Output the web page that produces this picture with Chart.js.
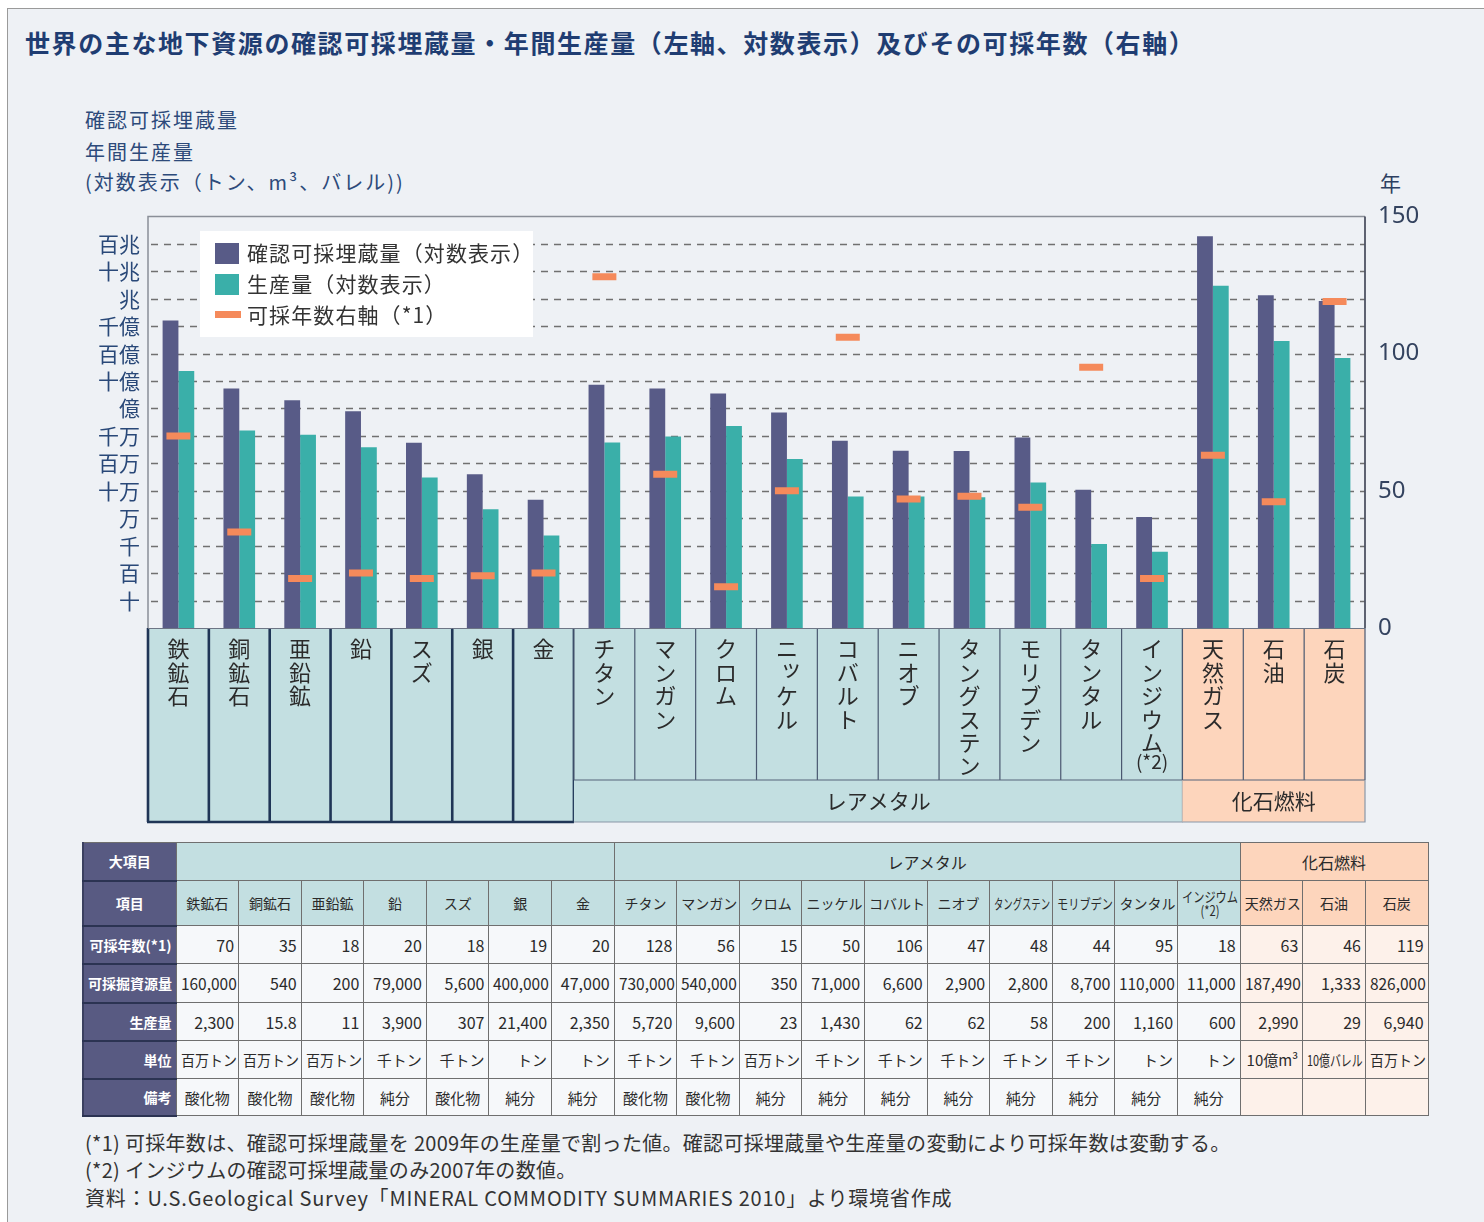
<!DOCTYPE html>
<html><head><meta charset="utf-8">
<script src="https://cdn.jsdelivr.net/npm/chart.js@4.4.0/dist/chart.umd.min.js"></script>
<style>
body{margin:0;width:1484px;height:1222px;overflow:hidden;background:#fff;font-family:'Noto Sans CJK JP','Noto Sans',sans-serif;position:relative;}
#frame{position:absolute;left:7px;top:8px;width:1480px;height:1230px;border:1px solid #9a9a9a;background:#eef1f5;}
#title{position:absolute;left:25px;top:24px;font-size:25px;letter-spacing:1.6px;font-weight:bold;color:#1f3d72;white-space:nowrap;}
.axt{position:absolute;left:85px;font-size:20px;letter-spacing:2px;color:#2d4a7a;white-space:nowrap;line-height:24px;}
#nen{position:absolute;left:1380px;top:167px;font-size:21px;color:#2d3f60;}
#cw{position:absolute;left:0;top:189px;width:1484px;height:641px;}
#legend{position:absolute;left:200px;top:231px;width:333px;height:106px;background:#fff;}
.li{position:absolute;left:47px;font-size:21px;letter-spacing:1.1px;color:#333;white-space:nowrap;line-height:26px;}
.sw{position:absolute;left:15px;}
#tbl{position:absolute;left:82px;top:842px;width:1345px;border-collapse:collapse;table-layout:fixed;}
#tbl td,#tbl th{border:1px solid #6f6f6f;padding:0 4px;white-space:nowrap;overflow:hidden;color:#2a2a2a;}
#tbl th{background:#585a82;color:#fff;font-size:14px;font-weight:bold;text-align:right;border-bottom:2px solid #2b3352;border-left:2px solid #3b4060;}
#tbl span{display:inline-block;}
.fn{position:absolute;left:85px;font-size:20px;color:#333;white-space:nowrap;line-height:24px;}
</style></head>
<body>
<div id="frame"></div>
<div id="title">世界の主な地下資源の確認可採埋蔵量・年間生産量（左軸、対数表示）及びその可採年数（右軸）</div>
<div class="axt" style="top:108px">確認可採埋蔵量</div>
<div class="axt" style="top:140px">年間生産量</div>
<div class="axt" style="top:170px">(対数表示（トン、m³、バレル))</div>
<div id="nen">年</div>
<div id="cw"><canvas id="c" width="1484" height="641"></canvas></div>
<div id="legend"></div>
<table id="tbl"></table>
<div class="fn" style="top:1131px;letter-spacing:0.3px">(*1) 可採年数は、確認可採埋蔵量を 2009年の生産量で割った値。確認可採埋蔵量や生産量の変動により可採年数は変動する。</div>
<div class="fn" style="top:1158px;letter-spacing:0.3px">(*2) インジウムの確認可採埋蔵量のみ2007年の数値。</div>
<div class="fn" style="top:1186px;letter-spacing:0.8px">資料：U.S.Geological Survey「MINERAL COMMODITY SUMMARIES 2010」より環境省作成</div>
<script>
// ===== DATA =====
const categories = ['鉄鉱石','銅鉱石','亜鉛鉱','鉛','スズ','銀','金','チタン','マンガン','クロム','ニッケル','コバルト','ニオブ','タングステン','モリブデン','タンタル','インジウム','天然ガス','石油','石炭'];
const categoryNotes = ['','','','','','','','','','','','','','','','','(*2)','','',''];
const years = [70,35,18,20,18,19,20,128,56,15,50,106,47,48,44,95,18,63,46,119];
const reserves = [160000,540,200,79000,5600,400000,47000,730000,540000,350,71000,6600,2900,2800,8700,110000,11000,187490,1333,826000];
const production = [2300,15.8,11,3900,307,21400,2350,5720,9600,23,1430,62,62,58,200,1160,600,2990,29,6940];
const units = ['百万トン','百万トン','百万トン','千トン','千トン','トン','トン','千トン','千トン','百万トン','千トン','千トン','千トン','千トン','千トン','トン','トン','10億m³','10億バレル','百万トン'];
const unitFactors = {'百万トン':1e6,'千トン':1e3,'トン':1,'10億m³':1e9,'10億バレル':1e9};
const remarks = ['酸化物','酸化物','酸化物','純分','酸化物','純分','純分','酸化物','酸化物','純分','純分','純分','純分','純分','純分','純分','純分','','',''];
const groupNames = ['','レアメタル','化石燃料'];
const groupCounts = [7,10,3];
const yTickValues = [1e1,1e2,1e3,1e4,1e5,1e6,1e7,1e8,1e9,1e10,1e11,1e12,1e13,1e14];
const yTickLabels = ['十','百','千','万','十万','百万','千万','億','十億','百億','千億','兆','十兆','百兆'];
const y1Ticks = [0,50,100,150];
const seriesNames = ['確認可採埋蔵量（対数表示）','生産量（対数表示）','可採年数右軸（*1）'];

// ===== STYLE =====
const C_RES='#585b87', C_PROD='#3aafa9', C_YEAR='#f58a5b';
const C_TEAL='#c3dfe1', C_PEACH='#fdd5bc';
const FONT='"Noto Sans CJK JP","Noto Sans",sans-serif';

const reservesTons = reserves.map((v,i)=>v*unitFactors[units[i]]);
const productionTons = production.map((v,i)=>v*unitFactors[units[i]]);
const groupFill = [C_TEAL,C_TEAL,C_PEACH];

const framePlugin = {
  id:'framePlugin',
  beforeDatasetsDraw(chart){
    const {ctx, chartArea:a, scales:{y}} = chart;
    ctx.save();
    ctx.strokeStyle='#707070'; ctx.lineWidth=1.3; ctx.setLineDash([7,6]);
    yTickValues.forEach(v=>{
      const py=Math.round(y.getPixelForValue(v))+0.5;
      ctx.beginPath(); ctx.moveTo(a.left+3,py); ctx.lineTo(a.right,py); ctx.stroke();
    });
    ctx.setLineDash([]);
    ctx.strokeStyle='#8a8f98'; ctx.lineWidth=1.5;
    ctx.beginPath(); ctx.moveTo(a.left,a.bottom); ctx.lineTo(a.left,a.top); ctx.lineTo(a.right,a.top); ctx.stroke();
    ctx.strokeStyle='#4d5363'; ctx.lineWidth=1.8;
    ctx.beginPath(); ctx.moveTo(a.right,a.top); ctx.lineTo(a.right,a.bottom); ctx.stroke();
    ctx.restore();
  },
  afterDraw(chart){
    const {ctx, chartArea:a, scales:{x}} = chart;
    const n = categories.length;
    const step = (a.right-a.left)/n;
    const y0 = a.bottom, hItem = 152, hAll = 194;
    ctx.save();
    let idx=0;
    groupCounts.forEach((cnt,g)=>{
      const named = groupNames[g] !== '';
      const gl = x.getPixelForValue(idx)-step/2, gr = x.getPixelForValue(idx+cnt-1)+step/2;
      ctx.fillStyle = groupFill[g];
      ctx.fillRect(gl, y0, gr-gl, hAll);
      if(named){
        ctx.strokeStyle='#4a5870'; ctx.lineWidth=1.2;
        for(let i=idx;i<=idx+cnt;i++){
          const px = x.getPixelForValue(i)-step/2;
          ctx.beginPath(); ctx.moveTo(px,y0); ctx.lineTo(px,y0+hItem); ctx.stroke();
        }
        ctx.strokeStyle='#56657a'; ctx.lineWidth=1.2;
        ctx.beginPath(); ctx.moveTo(gl,y0+hItem); ctx.lineTo(gr,y0+hItem); ctx.stroke();
        ctx.strokeStyle='#8a98a8'; ctx.lineWidth=1.2;
        ctx.beginPath(); ctx.moveTo(gr,y0+hItem); ctx.lineTo(gr,y0+hAll); ctx.lineTo(gl,y0+hAll); ctx.stroke();
        ctx.fillStyle='#2b2b2b'; ctx.font='21px '+FONT; ctx.textAlign='center'; ctx.textBaseline='middle';
        ctx.fillText(groupNames[g], (gl+gr)/2, y0+hItem+21);
      } else {
        ctx.strokeStyle='#1f3556'; ctx.lineWidth=2.6;
        for(let i=idx;i<=idx+cnt;i++){
          const px = x.getPixelForValue(i)-step/2;
          ctx.beginPath(); ctx.moveTo(px,y0); ctx.lineTo(px,y0+hAll); ctx.stroke();
        }
        ctx.beginPath(); ctx.moveTo(gl-1,y0+hAll); ctx.lineTo(gr,y0+hAll); ctx.stroke();
      }
      idx+=cnt;
    });
    ctx.strokeStyle='#6d7585'; ctx.lineWidth=1;
    ctx.beginPath(); ctx.moveTo(a.left,y0+0.5); ctx.lineTo(a.right,y0+0.5); ctx.stroke();
    ctx.fillStyle='#2b2b2b'; ctx.textAlign='center'; ctx.textBaseline='middle';
    categories.forEach((name,i)=>{
      const cx = x.getPixelForValue(i);
      ctx.font='22px '+FONT;
      [...name].forEach((ch,k)=>{
        let px=cx, py=y0+21+k*23.4;
        if('ッャュョァィゥェォ'.includes(ch)){px+=4; py-=5;}
        ctx.fillText(ch,px,py);
      });
      if(categoryNotes[i]){ ctx.font='19px '+FONT; ctx.fillText(categoryNotes[i],cx,y0+134); }
    });
    ctx.restore();
  }
};

new Chart(document.getElementById('c'), {
  data:{
    labels: categories,
    datasets:[
      {type:'line', label:seriesNames[2], data:years, yAxisID:'y1', showLine:false, pointStyle:'line', pointRadius:12, pointHoverRadius:12, pointBorderWidth:7, pointHoverBorderWidth:7, borderColor:C_YEAR, backgroundColor:C_YEAR, order:0},
      {type:'bar', label:seriesNames[0], data:reservesTons, yAxisID:'y', backgroundColor:C_RES, categoryPercentage:0.52, barPercentage:1.0, order:1},
      {type:'bar', label:seriesNames[1], data:productionTons, yAxisID:'y', backgroundColor:C_PROD, categoryPercentage:0.52, barPercentage:1.0, order:1}
    ]
  },
  options:{
    responsive:false, animation:false, devicePixelRatio:1, events:[],
    layout:{padding:{top:3,bottom:202,left:0,right:0}},
    plugins:{legend:{display:false}, tooltip:{enabled:false}},
    scales:{
      x:{display:false, offset:true},
      y:{type:'logarithmic', position:'left', min:1, max:1e15,
         afterBuildTicks:(axis)=>{axis.ticks = yTickValues.map(v=>({value:v}));},
         afterFit:(axis)=>{axis.width=148;},
         grid:{display:false, drawTicks:false}, border:{display:false},
         ticks:{autoSkip:false, padding:8, color:'#294878', font:{size:21, family:FONT},
           callback:(v)=>{const k=yTickValues.indexOf(v); return k>=0?yTickLabels[k]:'';}}},
      y1:{type:'linear', position:'right', min:0, max:150,
         afterBuildTicks:(axis)=>{axis.ticks = y1Ticks.map(v=>({value:v}));},
         afterFit:(axis)=>{axis.width=119;},
         grid:{display:false, drawTicks:false}, border:{display:false},
         ticks:{autoSkip:false, padding:13, color:'#34435f', font:{size:24, family:'"Noto Sans",sans-serif'}}}
    }
  },
  plugins:[framePlugin]
});

// ===== LEGEND =====
const lg = document.getElementById('legend');
const swatches = [
  {c:C_RES, top:12, h:21, w:24},
  {c:C_PROD, top:43, h:21, w:24},
  {c:C_YEAR, top:80, h:7, w:26}
];
seriesNames.forEach((s,i)=>{
  const sw = document.createElement('div'); sw.className='sw';
  sw.style.cssText = `top:${swatches[i].top}px;width:${swatches[i].w}px;height:${swatches[i].h}px;background:${swatches[i].c};`;
  lg.appendChild(sw);
  const t = document.createElement('div'); t.className='li'; t.style.top = (8+i*31)+'px';
  t.textContent = s; lg.appendChild(t);
});

// ===== TABLE =====
const tbl = document.getElementById('tbl');
const cg = document.createElement('colgroup');
let colHtml = '<col style="width:93px">';
categories.forEach(()=>colHtml+='<col style="width:62.6px">');
cg.innerHTML = colHtml; tbl.appendChild(cg);
const groupOf = [];
groupCounts.forEach((c,g)=>{for(let k=0;k<c;k++) groupOf.push(g);});
const fmt = v => v.toLocaleString('en-US');
const rowHeights = [38,45,38,39,38,38,37];
function addRow(h, header, cells, headerAlign){
  const tr = document.createElement('tr'); tr.style.height = h+'px';
  const th = document.createElement('th'); th.innerHTML = '<span>'+header+'</span>';
  if(headerAlign) th.style.textAlign = headerAlign;
  tr.appendChild(th);
  cells.forEach(c=>{
    const td = document.createElement('td');
    td.innerHTML = '<span>'+c.html+'</span>';
    td.style.cssText += c.css || '';
    if(c.colspan) td.colSpan = c.colspan;
    tr.appendChild(td);
  });
  tbl.appendChild(tr);
}
addRow(rowHeights[0], '大項目', groupCounts.map((c,g)=>({html:groupNames[g], colspan:c, css:`background:${groupFill[g]};text-align:center;font-size:16px;`})), 'center');
const bodyBg = g => g===2 ? '#fdf1ea' : '#f6f8fa';
addRow(rowHeights[1], '項目', categories.map((n,i)=>({html: n + (categoryNotes[i]?'<br>'+categoryNotes[i]:''), css:`background:${groupFill[groupOf[i]]};text-align:center;font-size:14px;line-height:14px;`})), 'center');
addRow(rowHeights[2], '可採年数(*1)', years.map((v,i)=>({html:fmt(v), css:`background:${bodyBg(groupOf[i])};text-align:right;font-size:16px;`})));
addRow(rowHeights[3], '可採掘資源量', reserves.map((v,i)=>({html:fmt(v), css:`background:${bodyBg(groupOf[i])};text-align:right;font-size:16px;`})));
addRow(rowHeights[4], '生産量', production.map((v,i)=>({html:fmt(v), css:`background:${bodyBg(groupOf[i])};text-align:right;font-size:16px;`})));
addRow(rowHeights[5], '単位', units.map((v,i)=>({html:v, css:`background:${bodyBg(groupOf[i])};text-align:right;font-size:15px;`})));
addRow(rowHeights[6], '備考', remarks.map((v,i)=>({html:v, css:`background:${bodyBg(groupOf[i])};text-align:center;font-size:15px;`})));
tbl.querySelectorAll('td,th').forEach(cell=>{
  const sp = cell.querySelector('span'); if(!sp) return;
  const avail = cell.clientWidth - 6;
  const w = sp.offsetWidth;
  if(w > avail && avail>0){
    const s = avail / w;
    const al = getComputedStyle(cell).textAlign;
    sp.style.transformOrigin = (al==='right'?'right':(al==='center'?'center':'left'))+' center';
    sp.style.transform = 'scaleX('+s.toFixed(3)+')';
    if(al==='center'){ sp.style.marginLeft = ((avail-w)/2)+'px'; sp.style.marginRight=((avail-w)/2)+'px'; }
    else if(al==='right'){ sp.style.marginLeft = (avail-w)+'px'; }
  }
});
</script>
</body></html>
